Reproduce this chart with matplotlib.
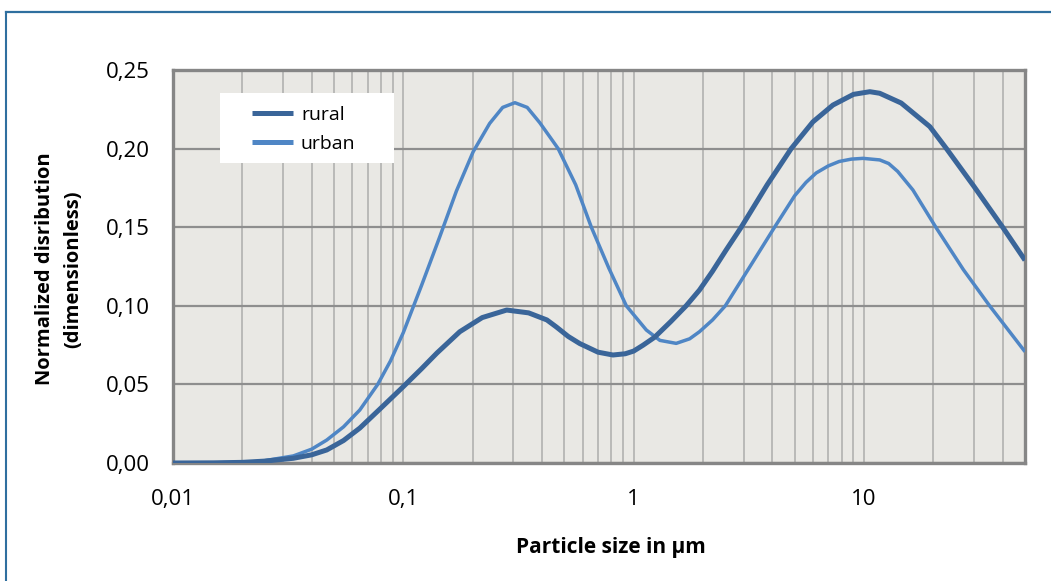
import matplotlib
matplotlib.use("Agg")
import matplotlib.pyplot as plt
from matplotlib.patches import Rectangle
from matplotlib.lines import Line2D
from matplotlib.ticker import FixedLocator, LogLocator, NullFormatter

plt.rcParams['font.family'] = ['Open Sans', 'DejaVu Sans']

# Data
rural_x = [0.01, 0.015, 0.02, 0.025, 0.0333, 0.04, 0.0465, 0.055, 0.0647, 0.08, 0.1, 0.12, 0.14,
           0.1758, 0.22, 0.281, 0.35, 0.42, 0.462, 0.52, 0.583, 0.7, 0.813, 0.92, 1.0, 1.1, 1.233,
           1.45, 1.69, 1.93, 2.2, 2.52, 2.93, 3.8, 4.83, 6.0, 7.33, 9.0, 10.6, 11.7, 14.5, 19.3,
           22.8, 30.0, 40.0, 50.0]
rural_y = [0.0, 0.0001, 0.0004, 0.0012, 0.003, 0.0052, 0.0083, 0.0143, 0.0222, 0.035, 0.0486, 0.060, 0.070,
           0.0835, 0.0925, 0.0973, 0.0955, 0.091, 0.0865, 0.0805, 0.076, 0.0705, 0.0687, 0.0695, 0.0712, 0.075, 0.080,
           0.090, 0.100, 0.110, 0.122, 0.1355, 0.150, 0.177, 0.200, 0.217, 0.2277, 0.2345, 0.2362, 0.2352, 0.229, 0.214,
           0.200, 0.176, 0.150, 0.129]

urban_x = [0.01, 0.015, 0.02, 0.0239, 0.0333, 0.04, 0.0465, 0.055, 0.0647, 0.0774, 0.088, 0.1, 0.12,
           0.144, 0.17, 0.201, 0.237, 0.27, 0.305, 0.345, 0.391, 0.43, 0.47, 0.56, 0.655, 0.78, 0.929,
           1.135, 1.3, 1.53, 1.75, 1.93, 2.2, 2.5, 3.2, 4.09, 5.0, 5.6, 6.2, 7.0, 7.8, 8.8, 9.9, 11.7,
           12.8, 14.0, 16.3, 20.5, 27.0, 35.1, 50.0]
urban_y = [0.0, 0.0001, 0.0005, 0.001, 0.0045, 0.0088, 0.0146, 0.023, 0.0337, 0.050, 0.065, 0.083, 0.113,
           0.144, 0.173, 0.198, 0.216, 0.2262, 0.2292, 0.2262, 0.2165, 0.208, 0.200, 0.177, 0.150, 0.124, 0.100,
           0.0846, 0.078, 0.0761, 0.079, 0.0835, 0.091, 0.100, 0.125, 0.150, 0.170, 0.1785, 0.1845, 0.189, 0.1918, 0.1933, 0.1938, 0.1928,
           0.1905, 0.1855, 0.1737, 0.150, 0.123, 0.100, 0.0708]

series_labels = ["rural", "urban"]
xticks = [0.01, 0.1, 1, 10]
xticklabels = ["0,01", "0,1", "1", "10"]
yticks = [0.0, 0.05, 0.10, 0.15, 0.20, 0.25]
yticklabels = ["0,00", "0,05", "0,10", "0,15", "0,20", "0,25"]

rural_color = "#3a6599"
urban_color = "#4f86c5"

W, H = 1051, 581
fig = plt.figure(figsize=(W/100, H/100), dpi=100)
fig.patch.set_facecolor("white")

# blue frame lines (left and top) around the chart
frame_c = "#2f6f9f"
fig.add_artist(Line2D([6/W, 6/W], [0, 1 - 12/H], transform=fig.transFigure, color=frame_c, lw=1.5))
fig.add_artist(Line2D([6/W, 1], [1 - 12/H, 1 - 12/H], transform=fig.transFigure, color=frame_c, lw=1.6))

L, R, T, B = 173, 1025, 70, 463
ax = fig.add_axes([L/W, 1 - B/H, (R-L)/W, (B-T)/H])
ax.set_facecolor("#e9e8e4")

ax.plot(rural_x, rural_y, color=rural_color, lw=3.6, label=series_labels[0],
        solid_capstyle="butt", solid_joinstyle="round", zorder=4)
ax.plot(urban_x, urban_y, color=urban_color, lw=2.5, label=series_labels[1],
        solid_capstyle="butt", solid_joinstyle="round", zorder=3)

ax.set_xscale("log")
ax.set_xlim(0.01, 50)
ax.set_ylim(0, 0.25)

ax.xaxis.set_major_locator(FixedLocator(xticks))
ax.set_xticklabels(xticklabels)
ax.xaxis.set_minor_locator(LogLocator(base=10, subs=range(2, 10)))
ax.xaxis.set_minor_formatter(NullFormatter())
ax.set_yticks(yticks)
ax.set_yticklabels(yticklabels)

ax.grid(True, which="major", axis="y", color="#8e8e8e", lw=1.6, zorder=1)
ax.grid(True, which="both", axis="x", color="#b9b9b7", lw=1.4, zorder=1)
ax.set_axisbelow(True)

for s in ax.spines.values():
    s.set_color("#868686")
    s.set_linewidth(2.4)

ax.tick_params(axis="both", which="both", length=0, labelsize=16, colors="black")
ax.tick_params(axis="x", pad=19)
ax.tick_params(axis="y", pad=17)

ax.set_xlabel("Particle size in µm", fontsize=15, fontweight="bold")
ax.xaxis.set_label_coords((611 - L)/(R - L), -(548 - B)/(B - T), transform=ax.transAxes)
ax.xaxis.label.set_va("center")
ax.set_ylabel("Normalized disribution\n(dimensionless)", fontsize=14.5, fontweight="bold",
              linespacing=1.6)
ax.yaxis.set_label_coords(-(L - 59)/(R - L), (B - 269)/(B - T), transform=ax.transAxes)
ax.yaxis.label.set_va("center")

# white legend box
ax.add_patch(Rectangle(((220 - L)/(R - L), (B - 163)/(B - T)), 174/(R - L), 70/(B - T),
                       transform=ax.transAxes, facecolor="white", edgecolor="none", zorder=2.5))
leg = ax.legend(loc="center left", bbox_to_anchor=((252 - L)/(R - L), (B - 129.5)/(B - T)),
                frameon=False, fontsize=14, handlelength=2.1, handletextpad=0.42,
                labelspacing=0.55, borderpad=0, borderaxespad=0)
for h in leg.get_lines():
    h.set_solid_capstyle("butt")
    h.set_linewidth(3.6)

fig.savefig("out.png", dpi=100, facecolor="white")
